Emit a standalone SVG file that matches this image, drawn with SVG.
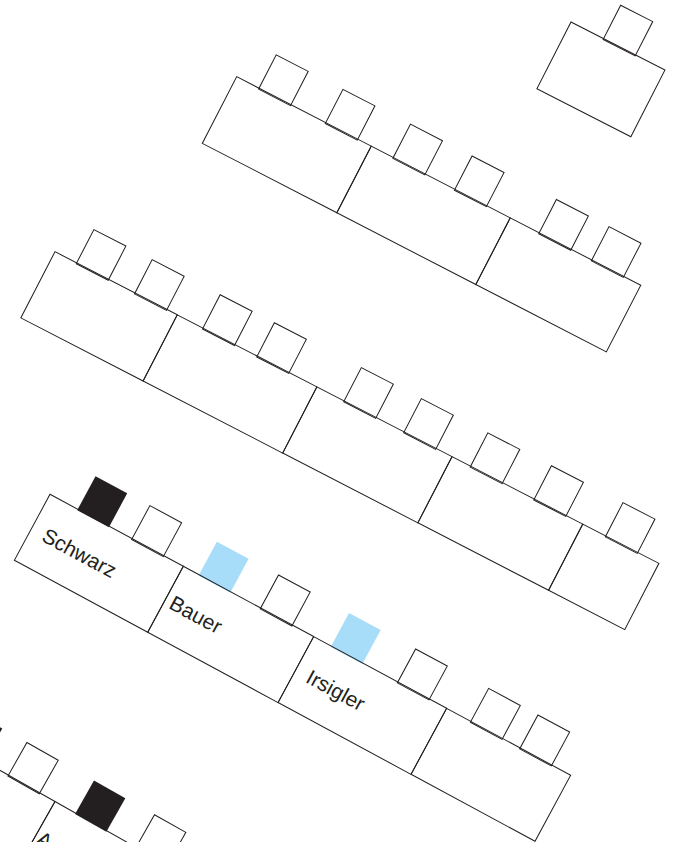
<svg xmlns="http://www.w3.org/2000/svg" width="674" height="842" viewBox="0 0 674 842">
<style>
.t{fill:none;stroke:#231f20;stroke-width:1}
.c{fill:#fff;stroke:#231f20;stroke-width:1}
.k{fill:#231f20}
.b{fill:#a7ddf9}
.l{font-family:"Liberation Sans",Arial,sans-serif;font-size:21px;fill:#231f20}
</style>
<defs>
<rect id="ch" x="0" y="-37.5" width="36" height="38.5"/>
</defs>
<rect width="674" height="842" fill="#fff"/>

<g id="row0" transform="translate(571,22) rotate(27.05)">
<g id="r0-chairs"><use href="#ch" class="c" x="36.6"/></g>
<g id="r0-table1"><rect class="t" x="0" y="0" width="105.5" height="75"/></g>
</g>

<g id="row1" transform="translate(236.7,76.7) rotate(27.3)">
<g id="r1-chairs">
<use href="#ch" class="c" x="25.1"/>
<use href="#ch" class="c" x="100.2"/>
<use href="#ch" class="c" x="176.2"/>
<use href="#ch" class="c" x="245.5"/>
<use href="#ch" class="c" x="340.4"/>
<use href="#ch" class="c" x="399.6"/>
</g>
<g id="r1-table1"><rect class="t" x="0" y="0" width="151.4" height="75"/></g>
<g id="r1-table2"><rect class="t" x="151.4" y="0" width="156.4" height="75"/></g>
<g id="r1-table3"><rect class="t" x="307.8" y="0" width="146.9" height="75"/></g>
</g>

<g id="row2" transform="translate(55,251.7) rotate(27.3)">
<g id="r2-chairs">
<use href="#ch" class="c" x="24.4"/>
<use href="#ch" class="c" x="90"/>
<use href="#ch" class="c" x="166.5"/>
<use href="#ch" class="c" x="227.5"/>
<use href="#ch" class="c" x="325.4"/>
<use href="#ch" class="c" x="392.9"/>
<use href="#ch" class="c" x="467.7"/>
<use href="#ch" class="c" x="539.3"/>
<use href="#ch" class="c" x="619.8"/>
</g>
<g id="r2-table1"><rect class="t" x="0" y="0" width="137.6" height="74.5"/></g>
<g id="r2-table2"><rect class="t" x="137.6" y="0" width="157.1" height="74.5"/></g>
<g id="r2-table3"><rect class="t" x="294.7" y="0" width="152.1" height="74.5"/></g>
<g id="r2-table4"><rect class="t" x="446.8" y="0" width="147.1" height="74.5"/></g>
<g id="r2-table5"><rect class="t" x="593.9" y="0" width="85.7" height="74.5"/></g>
</g>

<g id="row3" transform="translate(50,494.3) rotate(28.35)">
<g id="r3-chairs">
<use href="#ch" class="k" x="31.5"/>
<use href="#ch" class="c" x="93.3"/>
<use href="#ch" class="b" x="169.4"/>
<use href="#ch" class="c" x="239.4"/>
<use href="#ch" class="b" x="319.5"/>
<use href="#ch" class="c" x="395.2"/>
<use href="#ch" class="c" x="478.2"/>
<use href="#ch" class="c" x="534.2"/>
</g>
<g id="r3-table1"><rect class="t" x="0" y="0" width="151.5" height="75"/><text class="l" x="13.5" y="45">Schwarz</text></g>
<g id="r3-table2"><rect class="t" x="151.5" y="0" width="148.1" height="75"/><text class="l" x="157.5" y="44">Bauer</text></g>
<g id="r3-table3"><rect class="t" x="299.6" y="0" width="151.1" height="75"/><text class="l" x="313" y="44">Irsigler</text></g>
<g id="r3-table4"><rect class="t" x="450.7" y="0" width="140.9" height="75"/></g>
</g>

<g id="row4" transform="translate(55,801.5) rotate(29.5)">
<g id="r4-chairs">
<use href="#ch" class="k" x="-117.8"/>
<use href="#ch" class="c" x="-53.5"/>
<use href="#ch" class="k" x="23.6"/>
<use href="#ch" class="c" x="93.1"/>
</g>
<g id="r4-table1"><rect class="t" x="-151" y="0" width="151" height="75"/></g>
<g id="r4-table2"><rect class="t" x="0" y="0" width="150" height="75"/><text class="l" x="3" y="46">A</text></g>
</g>
</svg>
